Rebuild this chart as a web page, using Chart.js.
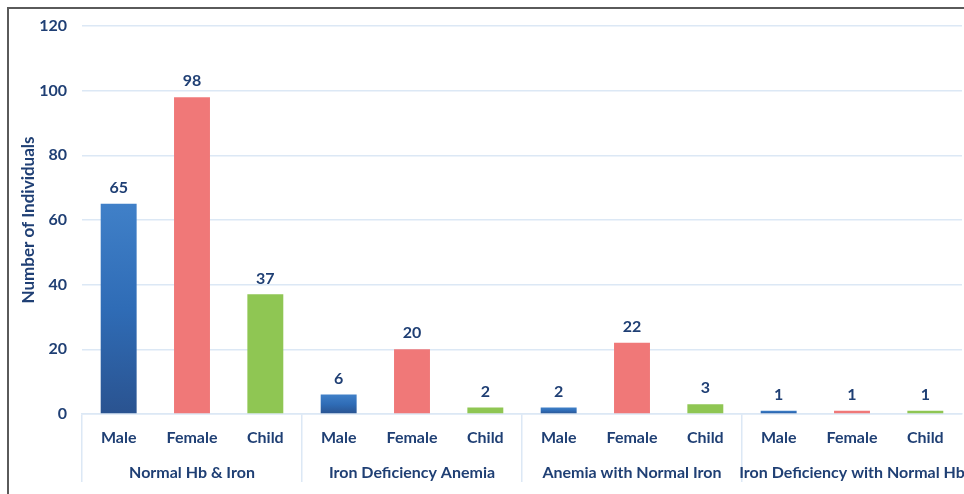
<!DOCTYPE html>
<html>
<head>
<meta charset="utf-8">
<script src="https://cdn.jsdelivr.net/npm/chart.js@4.4.1/dist/chart.umd.min.js"></script>
<style>
    html, body { margin: 0; padding: 0; background: #fff; overflow: hidden; }
    #wrap { position: relative; width: 964px; height: 494px; }
    #frame { position: absolute; left: 7px; top: 7px; width: 1000px; height: 600px;
             border-top: 2px solid #5a5a5a; border-left: 2px solid #5a5a5a; }
    canvas { position: absolute; left: 0; top: 0; }
</style>
</head>
<body>
<div id="wrap">
    <div id="frame"></div>
    <canvas id="anemiaChart" width="964" height="494"></canvas>
</div>
<script>
// カテゴリとグループ
const subLabels = ['Male', 'Female', 'Child', 'Male', 'Female', 'Child',
                   'Male', 'Female', 'Child', 'Male', 'Female', 'Child'];
const groupLabels = ['Normal Hb & Iron', 'Iron Deficiency Anemia',
                     'Anemia with Normal Iron', 'Iron Deficiency with Normal Hb'];
const counts = [65, 98, 37, 6, 20, 2, 2, 22, 3, 1, 1, 1];
const yTicks = [0, 20, 40, 60, 80, 100, 120];

const navy = '#1f3f74';
const gridBlue = '#dce8f5';
const font = 'Lato';

function barColor(context) {
    const label = subLabels[context.dataIndex];
    if (label === 'Female') return '#f07878';
    if (label === 'Child') return '#8fc653';
    // Male: 縦グラデーション
    const chart = context.chart;
    const yScale = chart.scales.y;
    if (!yScale || context.raw === undefined) return '#3470b8';
    const top = yScale.getPixelForValue(context.raw);
    const base = yScale.getPixelForValue(0);
    if (!isFinite(top) || !isFinite(base) || top === base) return '#3470b8';
    const g = chart.ctx.createLinearGradient(0, top, 0, base);
    g.addColorStop(0, '#4080c8');
    g.addColorStop(0.5, '#2f6cb6');
    g.addColorStop(1, '#2a5390');
    return g;
}

// バー上の数値ラベル
const valueLabels = {
    id: 'valueLabels',
    afterDatasetsDraw(chart) {
        const ctx = chart.ctx;
        const meta = chart.getDatasetMeta(0);
        ctx.save();
        ctx.fillStyle = navy;
        ctx.font = 'bold 16px ' + font;
        ctx.textAlign = 'center';
        ctx.textBaseline = 'bottom';
        meta.data.forEach((bar, i) => {
            ctx.fillText(String(counts[i]), bar.x, bar.y - 8);
        });
        ctx.restore();
    }
};

const groupSize = subLabels.length / groupLabels.length;

// x軸の高さ固定・左右はみ出し分の余白なし
function fixX(height) {
    return axis => {
        axis.height = height;
        axis.paddingLeft = 0;
        axis.paddingRight = 0;
    };
}

const ctx = document.getElementById('anemiaChart').getContext('2d');
const chart = new Chart(ctx, {
    type: 'bar',
    data: {
        labels: subLabels,
        datasets: [{
            data: counts,
            backgroundColor: barColor,
            borderWidth: 0,
            barPercentage: 0.49,
            categoryPercentage: 1
        }]
    },
    options: {
        responsive: false,
        animation: false,
        layout: { padding: { left: 15, top: 26, right: 2, bottom: 7 } },
        plugins: {
            legend: { display: false },
            title: { display: false },
            tooltip: { enabled: false }
        },
        scales: {
            y: {
                min: 0,
                max: 120,
                afterBuildTicks: axis => { axis.ticks = yTicks.map(v => ({ value: v })); },
                afterFit: axis => { axis.width = 67; },
                title: {
                    display: true,
                    text: 'Number of Individuals',
                    color: navy,
                    font: { family: font, size: 17, weight: 'bold' },
                    padding: 3
                },
                ticks: {
                    color: navy,
                    font: { family: font, size: 16, weight: 'bold' },
                    padding: 15
                },
                grid: { color: gridBlue, lineWidth: 1.5, drawTicks: false },
                border: { display: false }
            },
            x: {
                offset: true,
                afterFit: fixX(33),
                ticks: {
                    color: navy,
                    font: { family: font, size: 16, weight: 'bold' },
                    padding: -54,
                    maxRotation: 0,
                    autoSkip: false
                },
                grid: {
                    offset: true,
                    drawOnChartArea: false,
                    drawTicks: true,
                    tickLength: 68,
                    lineWidth: 1.5,
                    color: c => (c.index % groupSize === 0) ? gridBlue : 'rgba(0,0,0,0)'
                },
                border: { display: true, color: gridBlue, width: 1.5 }
            },
            x2: {
                type: 'category',
                position: 'bottom',
                offset: true,
                labels: groupLabels,
                afterFit: fixX(40),
                ticks: {
                    color: navy,
                    font: { family: font, size: 16, weight: 'bold' },
                    padding: 8,
                    maxRotation: 0,
                    autoSkip: false
                },
                grid: { display: false },
                border: { display: false }
            }
        }
    },
    plugins: [valueLabels]
});
</script>
</body>
</html>
